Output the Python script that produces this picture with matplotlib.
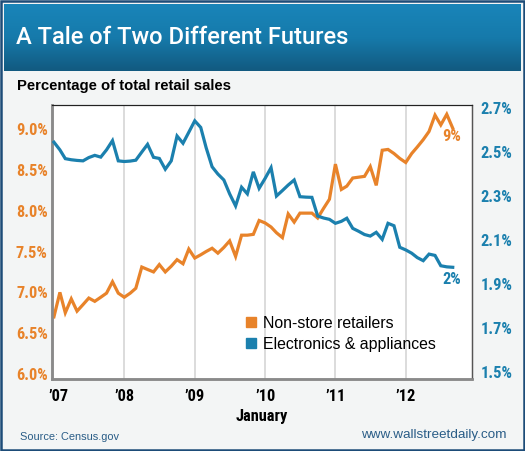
import matplotlib
matplotlib.use('Agg')
import matplotlib.pyplot as plt
import matplotlib.transforms as mtransforms
import numpy as np
import pandas as pd
from matplotlib.lines import Line2D
from matplotlib.patches import Rectangle
from matplotlib.colors import LinearSegmentedColormap
from matplotlib import font_manager

# ---------------- data (monthly, Jan 2007 - Sep 2012) ----------------
start_month = "2007-01-01"
nonstore = [6.70, 7.00, 6.75, 6.92, 6.77, 6.85, 6.93, 6.89, 6.94, 6.99,
            7.13, 6.99, 6.94, 6.99, 7.05, 7.31, 7.28, 7.25, 7.34, 7.25,
            7.32, 7.40, 7.35, 7.53, 7.42, 7.46, 7.50, 7.54, 7.48, 7.55,
            7.63, 7.44, 7.70, 7.70, 7.71, 7.88, 7.85, 7.80, 7.73, 7.67,
            7.96, 7.86, 7.97, 7.97, 7.97, 7.91, 8.03, 8.14, 8.57, 8.26,
            8.30, 8.40, 8.41, 8.42, 8.54, 8.31, 8.74, 8.75, 8.70, 8.64,
            8.59, 8.70, 8.78, 8.87, 8.97, 9.17, 9.05, 9.18, 9.01]
electronics = [2.545, 2.51, 2.47, 2.465, 2.462, 2.46, 2.475, 2.485, 2.477, 2.51,
               2.552, 2.46, 2.457, 2.459, 2.463, 2.50, 2.535, 2.476, 2.471, 2.422,
               2.46, 2.573, 2.54, 2.59, 2.642, 2.612, 2.52, 2.433, 2.40, 2.373,
               2.31, 2.255, 2.34, 2.31, 2.41, 2.335, 2.38, 2.429, 2.30, 2.325,
               2.35, 2.373, 2.297, 2.295, 2.294, 2.209, 2.20, 2.194, 2.176, 2.185,
               2.199, 2.153, 2.14, 2.125, 2.118, 2.135, 2.103, 2.176, 2.165, 2.067,
               2.055, 2.04, 2.02, 2.006, 2.036, 2.03, 1.983, 1.978, 1.976]
series_names = ["Non-store retailers", "Electronics & appliances"]
end_labels = ["9%", "2%"]
year_labels = ["\u201907", "\u201908", "\u201909", "\u201910", "\u201911", "\u201912"]
year_starts = ["2007-01-01", "2008-01-01", "2009-01-01", "2010-01-01", "2011-01-01", "2012-01-01"]
left_ticks = [6.0, 6.5, 7.0, 7.5, 8.0, 8.5, 9.0]
right_ticks = [1.5, 1.7, 1.9, 2.1, 2.3, 2.5, 2.7]
title = "A Tale of Two Different Futures"
subtitle = "Percentage of total retail sales"
xlabel = "January"
source = "Source: Census.gov"
site = "www.wallstreetdaily.com"

# ---------------- fonts ----------------
available = {f.name for f in font_manager.fontManager.ttflist}

def pick(cands, fallback):
    for c in cands:
        if c in available:
            return c
    return fallback

NARROW = pick(["Roboto Condensed", "Liberation Sans Narrow", "Archivo Narrow",
               "PT Sans Narrow", "Fira Sans Condensed", "IBM Plex Sans Condensed",
               "Encode Sans Condensed", "Open Sans Condensed"], "Roboto")
SANS = pick(["Liberation Sans", "Arimo"], "DejaVu Sans")
TITLEF = pick(["Roboto"], "DejaVu Sans")

# ---------------- style ----------------
ORANGE = "#e8832a"
BLUE = "#1b80ae"
BG = "#f3f5f5"
FRAME = "#1d4c78"
W, H = 525, 451
DPI = 100
TICKSIZE = 11.8

dates = pd.date_range(start_month, periods=len(nonstore), freq="MS")

fig = plt.figure(figsize=(W / DPI, H / DPI), dpi=DPI, facecolor=BG)

def fx(px):
    return px / W

def fy(py):
    return 1 - py / H

# outer frame
fig.patches.append(Rectangle((fx(1), fy(450)), fx(523), 449 / H, transform=fig.transFigure,
                             facecolor="none", edgecolor=FRAME, linewidth=1.8, zorder=0))

# title banner with gradient
bax = fig.add_axes([fx(4), fy(71), fx(517), 67 / H])
grad = np.linspace(0, 1, 100).reshape(-1, 1)
cmap = LinearSegmentedColormap.from_list("banner", ["#1985b9", "#167aab", "#125a80"])
bax.imshow(grad, aspect="auto", cmap=cmap, extent=[0, 1, 0, 1], origin="upper")
bax.set_axis_off()
fig.text(fx(16.5), fy(38), title, color="white", fontsize=17.1, fontfamily=TITLEF,
         fontweight="medium", va="center", ha="left")

fig.text(fx(17), fy(86), subtitle, color="black", fontsize=10.7,
         fontfamily=SANS, fontweight="bold", va="center", ha="left")

# ---------------- main axes ----------------
ax = fig.add_axes([fx(52), fy(379), fx(420), 274 / H])
ax.set_facecolor("white")
ax2 = ax.twinx()

ax.plot(dates, nonstore, color=ORANGE, lw=2.3, solid_joinstyle="miter", zorder=3)
ax2.plot(dates, electronics, color=BLUE, lw=2.3, solid_joinstyle="miter", zorder=3)

ax.set_ylim(5.939, 9.294)
ax2.set_ylim(1.468, 2.714)
ax.set_xlim(pd.Timestamp("2006-12-22"), pd.Timestamp("2012-12-10"))

ax.set_xticks(pd.to_datetime(year_starts))
ax.set_xticklabels(year_labels)
for d in pd.to_datetime(year_starts)[1:]:
    ax.axvline(d, color="#dcdcdc", lw=1.4, zorder=1)

ax.set_yticks(left_ticks)
ax.set_yticklabels([f"{v:.1f}%" for v in left_ticks])
ax2.set_yticks(right_ticks)
ax2.set_yticklabels([f"{v:.1f}%" for v in right_ticks])

ax.tick_params(axis="y", length=0, pad=3, labelcolor=ORANGE, labelsize=TICKSIZE)
ax2.tick_params(axis="y", length=0, pad=6, labelcolor=BLUE, labelsize=TICKSIZE)
ax.tick_params(axis="x", length=0, pad=7, labelcolor="black", labelsize=TICKSIZE)
for lab in ax.get_yticklabels() + ax2.get_yticklabels() + ax.get_xticklabels():
    lab.set_fontfamily(NARROW)
    lab.set_fontweight("bold")

# nudge the first year label right, as in the reference
first = ax.get_xticklabels()[0]
first.set_transform(first.get_transform() + mtransforms.ScaledTranslation(5 / DPI, 0, fig.dpi_scale_trans))

for a in (ax, ax2):
    a.spines["left"].set_color("#8a8a8a")
    a.spines["left"].set_linewidth(1.8)
    a.spines["bottom"].set_color("#8a8a8a")
    a.spines["bottom"].set_linewidth(1.8)
    a.spines["top"].set_color("#222222")
    a.spines["top"].set_linewidth(0.8)
    a.spines["right"].set_color("#555555")
    a.spines["right"].set_linewidth(0.9)

ax.set_xlabel(xlabel, fontfamily=NARROW, fontweight="bold", fontsize=TICKSIZE, labelpad=4)

# end labels
ax.annotate(end_labels[0], xy=(dates[-1], nonstore[-1]), xytext=(-0.5, -6),
            textcoords="offset points", color=ORANGE, fontsize=TICKSIZE, fontweight="bold",
            fontfamily=NARROW, ha="center", va="center")
ax2.annotate(end_labels[1], xy=(dates[-1], electronics[-1]), xytext=(-0.5, -8.5),
             textcoords="offset points", color=BLUE, fontsize=TICKSIZE, fontweight="bold",
             fontfamily=NARROW, ha="center", va="center")

# legend
handles = [Line2D([0], [0], marker="s", linestyle="none", markersize=6.5,
                  markerfacecolor=c, markeredgecolor=c) for c in (ORANGE, BLUE)]
leg = ax2.legend(handles, series_names, loc="upper left",
                 bbox_to_anchor=((246 - 52) / 420, 1 - (316 - 105) / 274),
                 frameon=False, handlelength=0.6, handletextpad=0.45, labelspacing=0.38,
                 borderaxespad=0, borderpad=0,
                 prop={"family": SANS, "size": 11.4})

fig.text(fx(20), fy(437), source, color="#2a5d87", fontsize=7.9,
         fontfamily=SANS, va="center", ha="left")
fig.text(fx(507), fy(435), site, color="#2a5d87", fontsize=9.7,
         fontfamily=SANS, va="center", ha="right")

fig.savefig("out.png", dpi=DPI, facecolor=BG)
